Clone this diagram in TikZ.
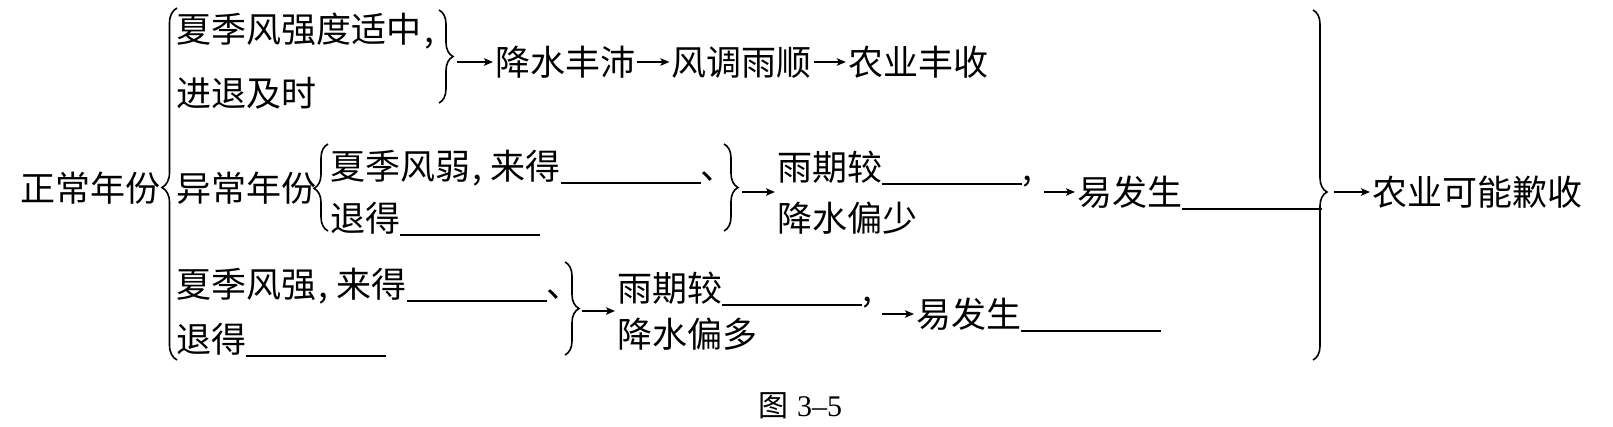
\documentclass[tikz,border=0pt]{standalone}
\usepackage{fontspec}
\setmainfont{Noto Sans CJK SC}
\newfontfamily\serifnum{Liberation Serif}
\usetikzlibrary{positioning,arrows.meta,decorations.pathreplacing}
\newcommand{\blk}[1][4em]{\rule[-0.14em]{#1}{0.05em}}
\newcommand{\dou}{\hspace{.06em},\hspace{.25em}}

\begin{document}
\begin{tikzpicture}[
  x=1pt,y=-1pt,
  txt/.style={inner sep=0pt,anchor=west,text height=30.8pt,text depth=4.2pt,font=\fontsize{35pt}{42pt}\selectfont},
  arr/.style={-{Stealth[length=9pt,width=7.5pt,inset=2pt]},line width=1.5pt,shorten >=2pt},
  brc/.style={decorate,decoration={brace,amplitude=#1},line width=1.6pt},
]
\useasboundingbox (0,0) rectangle (1613,426);

% left title and outer brace
\node[txt] (zc) at (20,188) {正常年份};
\draw[brc=15pt,decoration={aspect=0.49}] (177,360) -- (177,8);

% row 1: normal monsoon
\node[txt] (a1) at (176,29) {夏季风强度适中\hspace{.08em},};
\node[txt] (a2) at (176,93) {进退及时};
\draw[brc=14pt] (439,10) -- (439,103);
\coordinate (a) at (457,62);
\node[txt] (a3) at (495,62) {降水丰沛};
\node[txt,right=36pt of a3] (a4) {风调雨顺};
\node[txt,right=36pt of a4] (a5) {农业丰收};
\draw[arr] (a) -- (a3);
\draw[arr,shorten <=2pt] (a3) -- (a4);
\draw[arr,shorten <=2pt] (a4) -- (a5);

% row 2: weak monsoon
\node[txt] (b0) at (176,188) {异常年份};
\draw[brc=14pt,decoration={aspect=0.49}] (328,231) -- (328,144);
\node[txt] (b1) at (330,166) {夏季风弱\dou 来得\blk、};
\node[txt] (b2) at (330,218) {退得\blk};
\draw[brc=14pt] (724,144) -- (724,231);
\coordinate (b) at (742,192);
\node[txt] (b3) at (777,167) {雨期较\blk,};
\node[txt] (b4) at (777,218) {降水偏少};
\draw[arr] (b) -- (b3.west |- b);
\coordinate (bs) at (1044,192);
\node[txt] (b5) at (1077,192) {易发生\blk};
\draw[arr] (bs) -- (b5);

% row 3: strong monsoon
\node[txt] (c1) at (176,284) {夏季风强\dou 来得\blk、};
\node[txt] (c2) at (176,339) {退得\blk};
\draw[brc=14pt] (565,262) -- (565,355);
\coordinate (c) at (582,311);
\node[txt] (c3) at (617,288) {雨期较\blk,};
\node[txt] (c4) at (617,334) {降水偏多};
\draw[arr] (c) -- (c3.west |- c);
\coordinate (cs) at (882,314);
\node[txt] (c5) at (916,314) {易发生\blk};
\draw[arr] (cs) -- (c5);

% right brace and result
\draw[brc=14pt,decoration={aspect=0.52}] (1313,10) -- (1313,360);
\coordinate (e) at (1334,192);
\node[txt] (e1) at (1372,192) {农业可能歉收};
\draw[arr] (e) -- (e1);

% caption
\node[font=\fontsize{30pt}{36pt}\selectfont] (cap) at (800,406) {图\hspace{.3em}{\serifnum 3–5}};
\end{tikzpicture}
\end{document}
